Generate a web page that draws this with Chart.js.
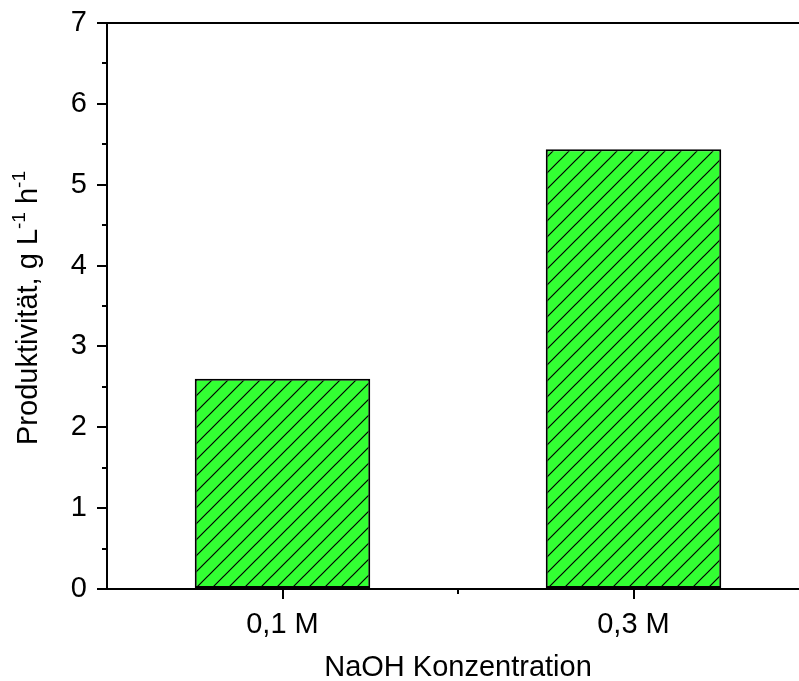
<!DOCTYPE html>
<html>
<head>
<meta charset="utf-8">
<script src="https://cdn.jsdelivr.net/npm/chart.js@4.4.1/dist/chart.umd.min.js"></script>
<style>
  html, body { margin: 0; padding: 0; background: #fff; overflow: hidden; }
  #wrap { width: 799px; height: 681px; overflow: hidden; }
</style>
</head>
<body>
<div id="wrap"><canvas id="myChart" width="812" height="681"></canvas></div>
<script>
const categories = ['0,1 M', '0,3 M'];
const productivity = [2.6, 5.44];
const yTicks = [0, 1, 2, 3, 4, 5, 6, 7];
const yMinorTicks = [0.5, 1.5, 2.5, 3.5, 4.5, 5.5, 6.5];

const FONT = "'Liberation Sans', Arial, sans-serif";
const SIZE = 29;

// green fill with "/" hatching
function hatch() {
    const c = document.createElement('canvas');
    c.width = 16; c.height = 16;
    const g = c.getContext('2d');
    g.fillStyle = '#33ff33';
    g.fillRect(0, 0, 16, 16);
    g.strokeStyle = '#000';
    g.lineWidth = 1.2;
    g.beginPath();
    g.moveTo(0, 16); g.lineTo(16, 0);
    g.moveTo(-2, 2); g.lineTo(2, -2);
    g.moveTo(14, 18); g.lineTo(18, 14);
    g.stroke();
    return g.createPattern(c, 'repeat');
}

const ctx = document.getElementById('myChart');
const pattern = hatch();

const extras = {
    id: 'extras',
    afterDraw(chart) {
        const c = chart.ctx;
        const area = chart.chartArea;
        const x = chart.scales.x;
        const y = chart.scales.y;
        c.save();
        c.strokeStyle = '#000';
        c.lineWidth = 2;
        // top frame line
        c.beginPath();
        c.moveTo(area.left - 1, area.top);
        c.lineTo(area.right, area.top);
        c.stroke();
        // minor ticks
        c.beginPath();
        yMinorTicks.forEach(v => {
            const py = Math.round(y.getPixelForValue(v));
            c.moveTo(area.left, py);
            c.lineTo(area.left - 5, py);
        });
        for (let i = 0; i < categories.length - 1; i++) {
            const px = Math.round(x.getPixelForValue(i + 0.5));
            c.moveTo(px, area.bottom);
            c.lineTo(px, area.bottom + 5);
        }
        c.stroke();

        // y title with superscripts
        const parts = [
            ['Produktivität, g L', SIZE, 0],
            ['-1', 19, 12],
            [' h', SIZE, 0],
            ['-1', 19, 12]
        ];
        let total = 0;
        parts.forEach(p => { c.font = p[1] + 'px ' + FONT; total += c.measureText(p[0]).width; });
        const cy = (area.top + area.bottom) / 2 + 2;
        c.translate(37, cy);
        c.rotate(-Math.PI / 2);
        c.fillStyle = '#000';
        c.textBaseline = 'alphabetic';
        let tx = -total / 2;
        parts.forEach(p => {
            c.font = p[1] + 'px ' + FONT;
            c.fillText(p[0], tx, -p[2]);
            tx += c.measureText(p[0]).width;
        });
        c.restore();
    }
};

new Chart(ctx, {
    type: 'bar',
    data: {
        labels: categories,
        datasets: [{
            data: productivity,
            backgroundColor: pattern,
            borderColor: '#000',
            borderWidth: 2,
            borderSkipped: false,
            barPercentage: 0.5,
            categoryPercentage: 1
        }]
    },
    options: {
        responsive: false,
        animation: false,
        layout: { padding: { top: 23, right: 3, left: 0, bottom: 0 } },
        plugins: {
            legend: { display: false },
            tooltip: { enabled: false }
        },
        scales: {
            x: {
                offset: true,
                grid: { offset: false, drawOnChartArea: false, color: '#000', lineWidth: 2, tickLength: 10 },
                border: { color: '#000', width: 2 },
                ticks: { color: '#000', font: { family: FONT, size: SIZE }, padding: 9, maxRotation: 0 },
                title: {
                    display: true,
                    text: 'NaOH Konzentration',
                    color: '#000',
                    font: { family: FONT, size: SIZE },
                    padding: { top: 0, bottom: -4 }
                },
                afterFit(scale) { scale.height = 92; }
            },
            y: {
                min: 0,
                max: 7,
                afterBuildTicks(scale) { scale.ticks = yTicks.map(v => ({ value: v })); },
                grid: { drawOnChartArea: false, color: '#000', lineWidth: 2, tickLength: 10 },
                border: { color: '#000', width: 2 },
                ticks: { color: '#000', font: { family: FONT, size: SIZE, lineHeight: 0.6 }, padding: 10 },
                afterFit(scale) {
                    scale.width = 107;
                    scale.paddingTop = 0;
                    scale.paddingBottom = 0;
                }
            }
        }
    },
    plugins: [extras]
});
</script>
</body>
</html>
